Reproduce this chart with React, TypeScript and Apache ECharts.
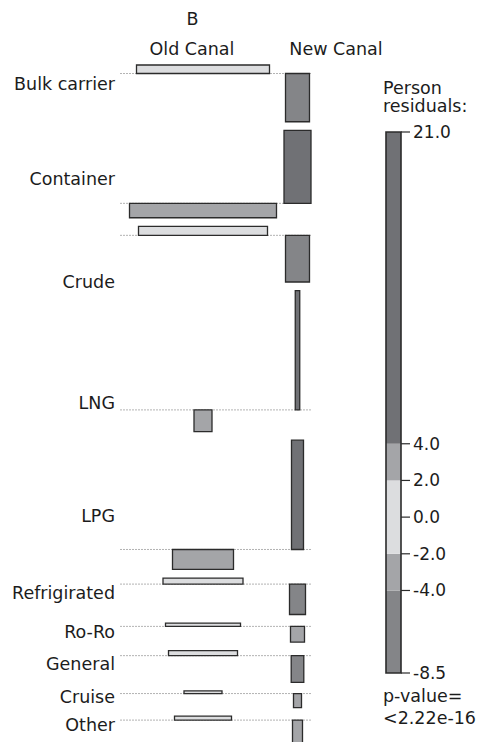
import React, { useEffect, useRef } from "react";
import * as echarts from "echarts";

// ---- data ----
const rowNames = ["Bulk carrier", "Container", "Crude", "LNG", "LPG", "Refrigirated", "Ro-Ro", "General", "Cruise", "Other"];
const columnNames = ["Old Canal", "New Canal"];
const columnVariable = "B";
// Pearson residuals per cell
const residualsOld = [1.5, -2.54, 1.58, -3.82, -3.52, 1.06, 0.58, 0.88, 0.46, 0.7];
const residualsNew = [-8.49, 12.85, -8.22, 21.0, 19.24, -5.35, -2.76, -4.7, -2.46, -3.95];
// sqrt(expected) per cell (relative units)
const sqrtExpectedOld = [133, 147, 129, 18, 61, 80, 75, 69, 38, 57];
const sqrtExpectedNew = [24, 27, 24, 4.5, 12, 16, 14, 12.6, 8, 10];
// legend
const legendBreaks = [-8.5, -4, -2, 2, 4, 21];
const legendTickValues = [21, 4, 2, 0, -2, -4, -8.5];
const legendTitle = ["Person", "residuals:"];
const pValueLines = ["p-value=", "<2.22e-16"];

// ---- layout / style ----
const FONT = '"DejaVu Sans", sans-serif';
const FS = 17.5;
const TXT = "#1c1c1c";
const PX_PER_RES = 5.68;
const ROW_GAP = 1.514;
const LEFT_PAD = 9;
const COL_GAP = 7.5;
const GRID_LEFT = 120.5;
const GRID_TOP = 65;
const GRID_H = 742 - 65;
const labelOffsets = [10.2, -24.5, 47, -6.7, -33, 9, 5.8, 8.8, 3, 4.7];
const COLORS = { posDark: "#707175", medium: "#a4a5a8", light: "#dcdddf", negDark: "#848588" };

function shade(r: number) {
  if (r > 4) return COLORS.posDark;
  if (r > 2) return COLORS.medium;
  if (r >= -2) return COLORS.light;
  if (r >= -4) return COLORS.medium;
  return COLORS.negDark;
}

export default function App() {
  const ref = useRef<HTMLDivElement>(null);
  useEffect(() => {
    if (!ref.current) return;
    const chart = echarts.init(ref.current, undefined, { renderer: "svg" });

    // baselines from residual extents
    const baselines: number[] = [];
    let top = 0;
    rowNames.forEach((_, i) => {
      const pos = Math.max(0, residualsOld[i], residualsNew[i]);
      const neg = Math.max(0, -residualsOld[i], -residualsNew[i]);
      baselines.push(top + pos);
      top = top + pos + neg + ROW_GAP;
    });
    const maxOld = Math.max(...sqrtExpectedOld);
    const maxNew = Math.max(...sqrtExpectedNew);
    const oldCenter = LEFT_PAD + maxOld / 2;
    const newCenter = LEFT_PAD + maxOld + COL_GAP + maxNew / 2;
    const xMax = LEFT_PAD + maxOld + COL_GAP + maxNew + 1;
    const yMax = GRID_H / PX_PER_RES;

    const bands = legendBreaks.slice(0, -1).map((lo, i) => [lo, legendBreaks[i + 1]]);

    const textStyle = (text: string, x: number, y: number, align: string) => ({
      text, x, y, fill: TXT, font: `${FS}px ${FONT}`, fontSize: FS, fontFamily: FONT,
      textAlign: align, align, textVerticalAlign: "middle", verticalAlign: "middle",
    });

    const option: any = {
      animation: false,
      grid: [
        { left: GRID_LEFT, top: GRID_TOP, width: xMax, height: GRID_H, containLabel: false, outerBoundsMode: "none" },
        { left: 386, top: 132, width: 15, height: 541, containLabel: false, outerBoundsMode: "none" },
      ],
      xAxis: [
        { type: "value", gridIndex: 0, min: 0, max: xMax, show: false },
        { type: "value", gridIndex: 1, min: 0, max: 1, show: false },
      ],
      yAxis: [
        { type: "value", gridIndex: 0, min: 0, max: yMax, inverse: true, show: false },
        {
          type: "value", gridIndex: 1, min: legendBreaks[0], max: legendBreaks[legendBreaks.length - 1],
          position: "right",
          axisLine: { show: false },
          splitLine: { show: false },
          axisTick: { show: false },
          axisLabel: {
            show: true, customValues: legendTickValues, margin: 12, fontSize: 17, fontFamily: FONT, color: TXT,
            formatter: (v: number) => Number(v).toFixed(1),
          },
        },
      ],
      series: [
        {
          type: "custom",
          xAxisIndex: 0, yAxisIndex: 0,
          clip: false,
          data: rowNames.map((n, i) => ({ name: n, value: [0, baselines[i]] })),
          renderItem: (params: any, api: any) => {
            const i = params.dataIndex;
            const b = baselines[i];
            const p0 = api.coord([0, b]);
            const p1 = api.coord([xMax, b]);
            const cell = (center: number, w: number, r: number) => {
              const a = api.coord([center - w / 2, b - Math.max(r, 0)]);
              const c = api.coord([center + w / 2, b - Math.min(r, 0)]);
              return {
                type: "rect",
                shape: { x: a[0], y: a[1], width: c[0] - a[0], height: c[1] - a[1] },
                style: { fill: shade(r), stroke: "#2b2b2b", lineWidth: 1.3 },
              };
            };
            return {
              type: "group",
              children: [
                {
                  type: "line",
                  shape: { x1: p0[0], y1: p0[1], x2: p1[0], y2: p1[1] },
                  style: { stroke: "#666", lineWidth: 1, lineDash: [1, 2] },
                },
                cell(oldCenter, sqrtExpectedOld[i], residualsOld[i]),
                cell(newCenter, sqrtExpectedNew[i], residualsNew[i]),
                {
                  type: "text",
                  style: textStyle(rowNames[i], p0[0] - 5.5, p0[1] + labelOffsets[i], "right"),
                },
              ],
            };
          },
        },
        {
          type: "custom",
          xAxisIndex: 1, yAxisIndex: 1,
          clip: false,
          data: bands.map((b) => ({ value: [0, b[0], b[1]] })),
          renderItem: (params: any, api: any) => {
            const [lo, hi] = bands[params.dataIndex];
            const a = api.coord([0, hi]);
            const c = api.coord([1, lo]);
            return {
              type: "rect",
              shape: { x: a[0], y: a[1], width: c[0] - a[0], height: c[1] - a[1] },
              style: { fill: shade((lo + hi) / 2) },
            };
          },
        },
        {
          type: "custom",
          xAxisIndex: 1, yAxisIndex: 1,
          clip: false,
          data: [{ value: [0, legendBreaks[0]] }],
          renderItem: (params: any, api: any) => {
            const a = api.coord([0, legendBreaks[legendBreaks.length - 1]]);
            const c = api.coord([1, legendBreaks[0]]);
            const ticks = legendTickValues.map((v) => {
              const p = api.coord([1, v]);
              return {
                type: "line",
                shape: { x1: p[0], y1: p[1], x2: p[0] + 9, y2: p[1] },
                style: { stroke: "#2b2b2b", lineWidth: 1.2 },
              };
            });
            return {
              type: "group",
              children: [
                {
                  type: "rect",
                  shape: { x: a[0], y: a[1], width: c[0] - a[0], height: c[1] - a[1] },
                  style: { fill: "none", stroke: "#2b2b2b", lineWidth: 1.6 },
                },
                ...ticks,
              ],
            };
          },
        },
      ],
      graphic: [
        { type: "text", style: textStyle(columnVariable, 192.5, 19, "center") },
        { type: "text", style: textStyle(columnNames[0], 192, 49, "center") },
        { type: "text", style: textStyle(columnNames[1], 336, 49, "center") },
        { type: "text", style: textStyle(legendTitle[0], 383, 87.5, "left") },
        { type: "text", style: textStyle(legendTitle[1], 383, 106, "left") },
        { type: "text", style: textStyle(pValueLines[0], 383, 696, "left") },
        { type: "text", style: textStyle(pValueLines[1], 383, 718, "left") },
      ],
    };
    chart.setOption(option);
    return () => chart.dispose();
  }, []);
  return <div ref={ref} style={{ position: "absolute", left: 0, top: 0, width: 482, height: 742 }} />;
}
